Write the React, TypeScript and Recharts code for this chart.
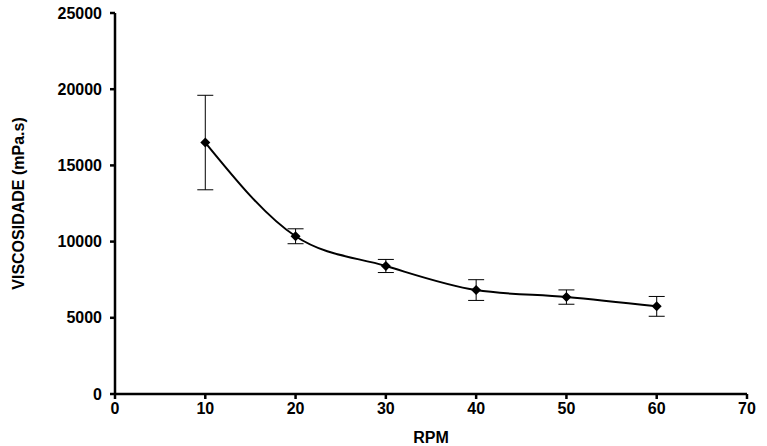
import React from 'react';
import { LineChart, Line, XAxis, YAxis, ErrorBar } from 'recharts';

const rpm = [10, 20, 30, 40, 50, 60];
const viscosity = [16500, 10350, 8400, 6820, 6360, 5750];
const errors = [3100, 490, 430, 680, 470, 650];
const xTicks = [0, 10, 20, 30, 40, 50, 60, 70];
const yTicks = [0, 5000, 10000, 15000, 20000, 25000];

const data = rpm.map((r, i) => ({ rpm: r, v: viscosity[i], err: errors[i] }));

const font = '"Liberation Sans", Arial, sans-serif';

const Diamond = (props: any) => {
  const { cx, cy } = props;
  if (cx == null || cy == null) return null;
  const s = 5;
  return <path d={`M${cx},${cy - s}L${cx + s},${cy}L${cx},${cy + s}L${cx - s},${cy}Z`} fill="#000" />;
};

export default function App() {
  return (
    <div style={{ position: 'absolute', left: 0, top: 0, background: '#fff' }}>
      <LineChart width={767} height={446} data={data} margin={{ top: 13, right: 20, left: 0, bottom: 0 }}>
        <XAxis
          dataKey="rpm"
          type="number"
          domain={[0, 70]}
          ticks={xTicks}
          height={52}
          stroke="#000"
          strokeWidth={2.5}
          tickSize={5}
          tickMargin={4}
          tick={{ fill: '#000', fontSize: 16, fontWeight: 'bold', fontFamily: font }}
          label={{
            content: ({ viewBox }: any) => (
              <text x={viewBox.x + viewBox.width / 2} y={443} textAnchor="middle" fill="#000"
                style={{ fontSize: 16, fontWeight: 'bold', fontFamily: font }}>RPM</text>
            ),
          }}
        />
        <YAxis
          type="number"
          domain={[0, 25000]}
          ticks={yTicks}
          width={115}
          stroke="#000"
          strokeWidth={2.5}
          tickSize={5}
          tickMargin={8}
          tick={{ fill: '#000', fontSize: 16, fontWeight: 'bold', fontFamily: font }}
          label={{
            content: ({ viewBox }: any) => {
              const cy = viewBox.y + viewBox.height / 2;
              return (
                <text x={24} y={cy} transform={`rotate(-90 24 ${cy})`} textAnchor="middle" fill="#000"
                  style={{ fontSize: 16, fontWeight: 'bold', fontFamily: font }}>VISCOSIDADE (mPa.s)</text>
              );
            },
          }}
        />
        <Line
          dataKey="v"
          type="monotone"
          stroke="#000"
          strokeWidth={2}
          dot={<Diamond />}
          activeDot={false}
          isAnimationActive={false}
        >
          <ErrorBar dataKey="err" width={8} stroke="#000" strokeWidth={1} />
        </Line>
      </LineChart>
    </div>
  );
}
